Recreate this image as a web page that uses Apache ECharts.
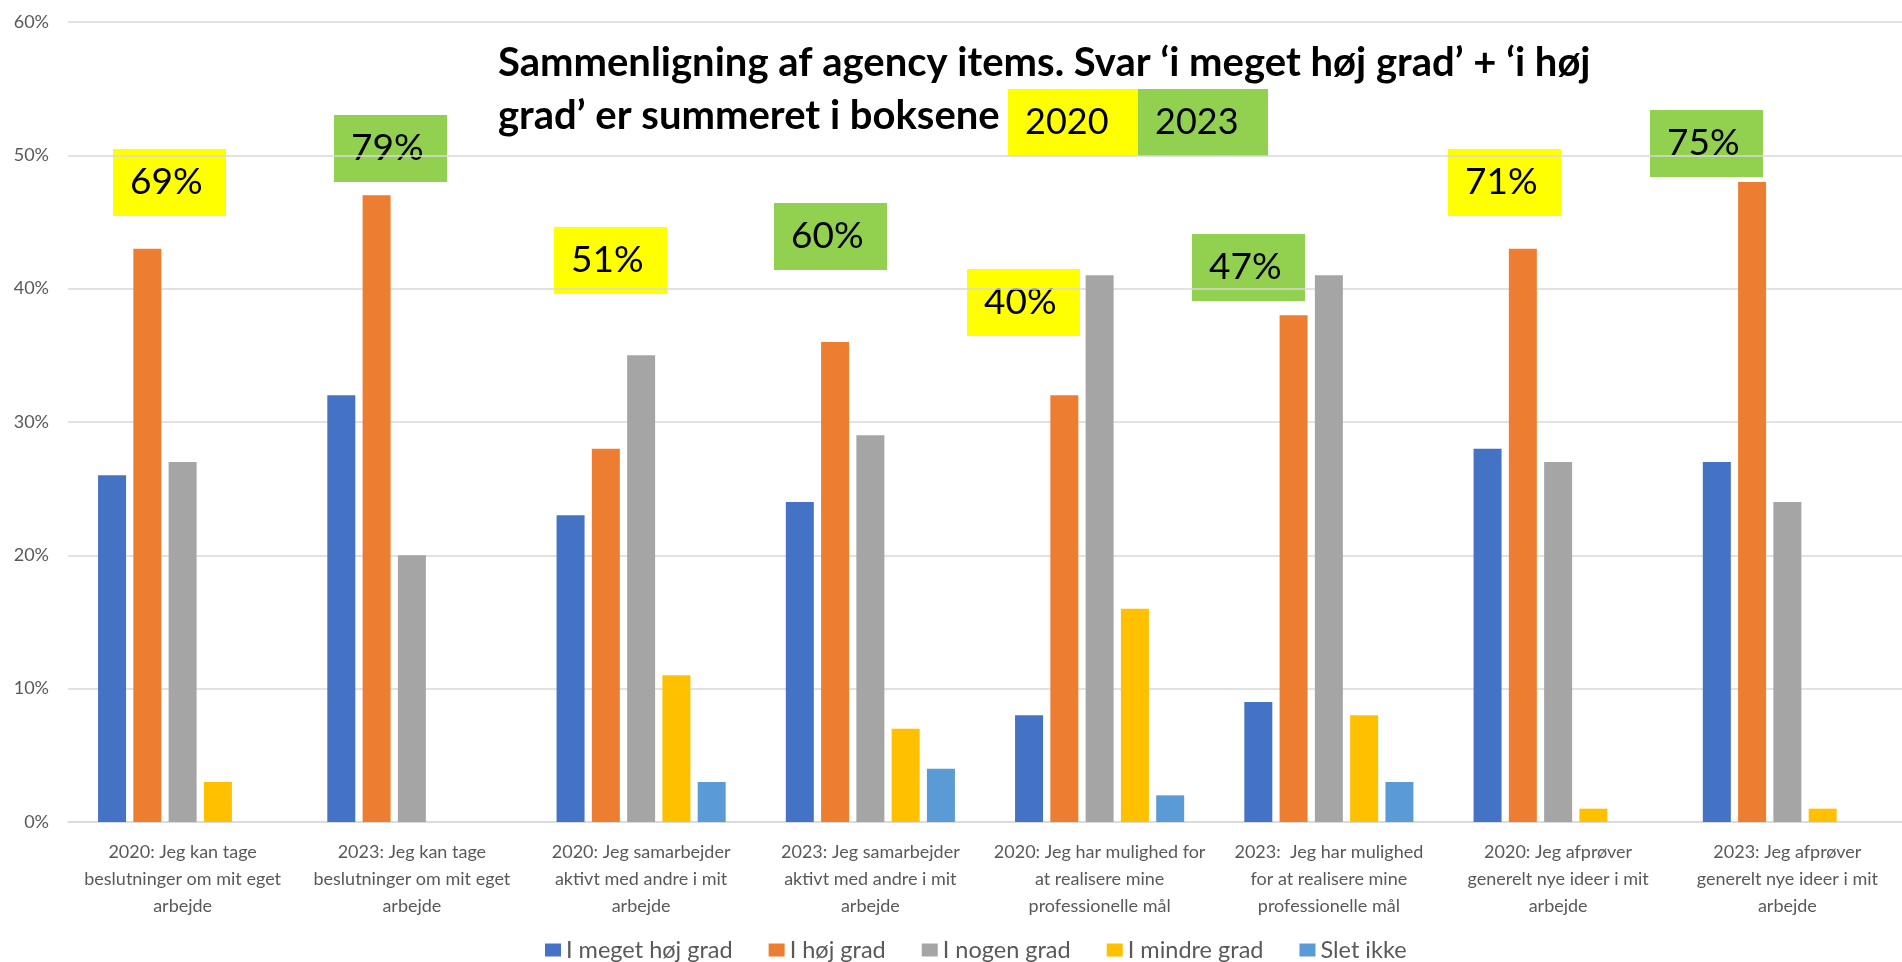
<!DOCTYPE html>
<html>
<head>
<meta charset="utf-8">
<title>Agency items</title>
<script src="https://cdn.jsdelivr.net/npm/echarts@6/dist/echarts.min.js"></script>
<style>
  html, body { margin: 0; padding: 0; background: #fff; }
  #main { width: 1902px; height: 962px; }
</style>
</head>
<body>
<div id="main"></div>
<script>
// kategorier (aksetekster)
var categories = [
  '2020: Jeg kan tage\nbeslutninger om mit eget\narbejde',
  '2023: Jeg kan tage\nbeslutninger om mit eget\narbejde',
  '2020: Jeg samarbejder\naktivt med andre i mit\narbejde',
  '2023: Jeg samarbejder\naktivt med andre i mit\narbejde',
  '2020: Jeg har mulighed for\nat realisere mine\nprofessionelle mål',
  '2023:  Jeg har mulighed\nfor at realisere mine\nprofessionelle mål',
  '2020: Jeg afprøver\ngenerelt nye ideer i mit\narbejde',
  '2023: Jeg afprøver\ngenerelt nye ideer i mit\narbejde'
];
var seriesNames = ['I meget høj grad', 'I høj grad', 'I nogen grad', 'I mindre grad', 'Slet ikke'];

// svar i procent
var megetHoj = [26, 32, 23, 24, 8, 9, 28, 27];
var hoj      = [43, 47, 28, 36, 32, 38, 43, 48];
var nogen    = [27, 20, 35, 29, 41, 41, 27, 24];
var mindre   = [3, 0, 11, 7, 16, 8, 1, 1];
var sletIkke = [0, 0, 3, 4, 2, 3, 0, 0];

// summerede bokse ('i meget høj grad' + 'i høj grad')
var boxSums = [69, 79, 51, 60, 40, 47, 71, 75];
var boxYears = ['2020', '2023', '2020', '2023', '2020', '2023', '2020', '2023'];

// placering af boksene (px, øverste venstre hjørne)
var boxLayout = [[113, 149], [334, 115], [554, 227], [774, 203],
                 [967, 269], [1192, 234], [1448, 149], [1650, 110]];

var yearColors = { '2020': '#FFFF00', '2023': '#92D050' };
var barColors = ['#4472C4', '#ED7D31', '#A5A5A5', '#FFC000', '#5B9BD5'];
var font = 'Lato';

var myChart = echarts.init(document.getElementById('main'));

var values = [megetHoj, hoj, nogen, mindre, sletIkke];
var series = [];
for (var i = 0; i < seriesNames.length; i++) {
  series.push({
    name: seriesNames[i],
    type: 'bar',
    barWidth: 28,
    barGap: '26%',
    itemStyle: { color: barColors[i] },
    data: values[i]
  });
}

var graphics = [];
graphics.push({
  type: 'text',
  left: 498,
  top: 37,
  style: {
    text: 'Sammenligning af agency items. Svar ‘i meget høj grad’ + ‘i høj\ngrad’ er summeret i boksene',
    font: 'bold 40px ' + font,
    lineHeight: 53,
    fill: '#000'
  }
});
// 2020 / 2023 forklaring
graphics.push({
  type: 'rect', left: 1008, top: 89, shape: { width: 130, height: 67 },
  style: { fill: yearColors['2020'] }
});
graphics.push({
  type: 'rect', left: 1138, top: 89, shape: { width: 130, height: 67 },
  style: { fill: yearColors['2023'] }
});
graphics.push({
  type: 'text', left: 1025, top: 104,
  style: { text: '2020', font: '36px ' + font, fill: '#000' }
});
graphics.push({
  type: 'text', left: 1155, top: 104,
  style: { text: '2023', font: '36px ' + font, fill: '#000' }
});

for (var b = 0; b < boxSums.length; b++) {
  var p = boxLayout[b];
  graphics.push({
    type: 'rect', left: p[0], top: p[1], shape: { width: 113, height: 67 },
    style: { fill: yearColors[boxYears[b]] }
  });
  graphics.push({
    type: 'text', left: p[0] + 17, top: p[1] + 15,
    style: { text: boxSums[b] + '%', font: '37px ' + font, fill: '#000' }
  });
}

myChart.setOption({
  animation: false,
  textStyle: { fontFamily: font },
  grid: { left: 68, top: 22, width: 1846, bottom: 140, containLabel: false },
  legend: {
    data: seriesNames,
    left: 545,
    top: 938,
    padding: 0,
    icon: 'rect',
    itemWidth: 16,
    itemHeight: 13,
    itemGap: 36,
    textStyle: { fontFamily: font, fontSize: 23.5, color: '#595959' }
  },
  xAxis: {
    type: 'category',
    data: categories,
    axisTick: { show: false },
    axisLine: { lineStyle: { color: '#D9D9D9', width: 1.5 } },
    axisLabel: {
      interval: 0,
      fontFamily: font,
      fontSize: 18,
      lineHeight: 27,
      color: '#595959',
      margin: 17
    }
  },
  yAxis: {
    type: 'value',
    min: 0,
    max: 60,
    interval: 10,
    axisLine: { show: false },
    axisTick: { show: false },
    axisLabel: {
      formatter: '{value}%',
      fontFamily: font,
      fontSize: 18,
      color: '#595959',
      margin: 19
    },
    splitLine: { lineStyle: { color: '#D9D9D9', width: 1.5 } }
  },
  series: series,
  graphic: graphics
});
</script>
</body>
</html>
